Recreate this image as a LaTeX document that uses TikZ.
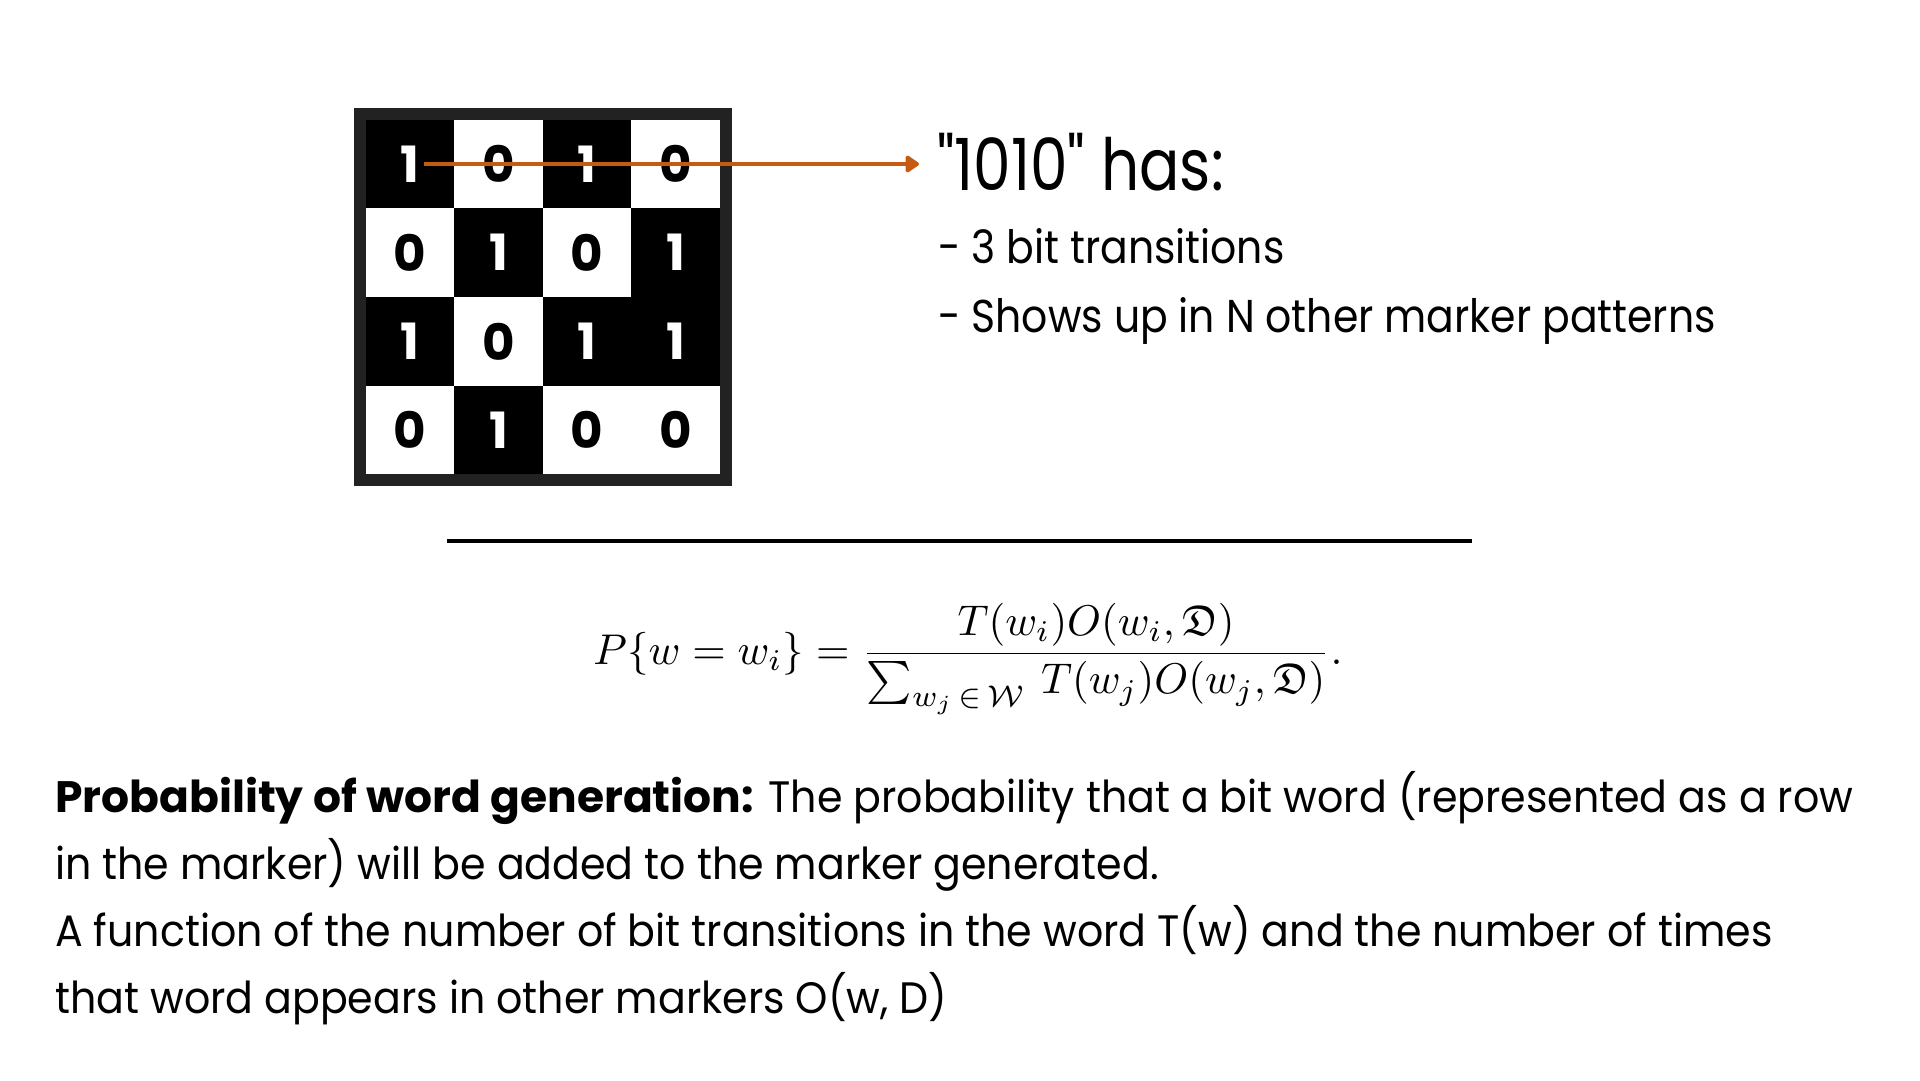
\documentclass[tikz,border=0pt]{standalone}
\usepackage[no-math]{fontspec}
\setmainfont{Poppins}
\newfontfamily\headfont{Poppins}[FakeStretch=0.83]
\newfontfamily\bulletfont{Poppins}[FakeStretch=0.89]
\newfontfamily\bodyfont{Poppins}[FakeStretch=0.935]
\usepackage{amsmath,amssymb,graphicx}
\usetikzlibrary{arrows.meta}
\definecolor{arrowc}{RGB}{197,90,17}
\definecolor{framec}{RGB}{34,34,34}
\tikzset{
  cell0/.style={fill=white,text=black},
  cell1/.style={fill=black,text=white},
  cellbase/.style={minimum width=88.8pt,minimum height=88.9pt,inner sep=0pt,
    font=\fontsize{50}{50}\selectfont\bfseries},
  txt/.style={anchor=base west,inner sep=0pt},
  big/.style={font=\fontsize{72}{80}\selectfont\headfont},
  mid/.style={font=\fontsize{46}{54}\selectfont\bulletfont},
  body/.style={font=\fontsize{44}{52}\selectfont\bodyfont},
  pointer/.style={draw=arrowc,line width=4pt,-{Triangle[length=15pt,width=19pt,round]}}
}
\begin{document}
\begin{tikzpicture}[x=1pt,y=-1pt]
\fill[white] (0,0) rectangle (1920,1080);
\useasboundingbox (0,0) rectangle (1920,1080);
% marker grid
\foreach \r/\row in {0/{1,0,1,0},1/{0,1,0,1},2/{1,0,1,1},3/{0,1,0,0}}{
  \foreach \v [count=\c from 0] in \row {
    \node[cellbase,cell\v] (c\r\c) at ({366+88.5*(\c+0.5)},{119.5+88.75*(\r+0.5)}) {\v};
  }
}
\node[draw=framec,line width=12pt,minimum size=366pt,inner sep=0pt] (marker) at (543,297) {};
% arrow and description
\coordinate (wordstart) at (424,164);
\node[txt,big] (has) at (937,190) {"1010" has:};
\node[txt,mid] (b1) at (938,263) {- 3 bit transitions};
\node[txt,mid] (b2) at (938,332) {- Shows up in N other marker patterns};
\draw[pointer,shorten >=18pt] (wordstart) -- (wordstart -| has.west);
% rule
\coordinate (ruleL) at (447,541);
\coordinate (ruleR) at (1472,541);
\draw[line width=4pt,black] (ruleL) -- (ruleR);
% formula
\node[inner sep=0pt] (formula) at (968,659)
  {\resizebox{749pt}{!}{$P\{w=w_i\}=\dfrac{T(w_i)O(w_i,\mathfrak{D})}{\textstyle\sum_{w_j\,{\in}\,\mathcal{W}}\,T(w_j)O(w_j,\mathfrak{D})}.$}};
% body text
\node[txt,body] (l1) at (55,812) {{\rmfamily\bfseries Probability of word generation:} The probability that a bit word (represented as a row};
\node[txt,body] (l2) at (55,879) {in the marker) will be added to the marker generated.};
\node[txt,body] (l3) at (55,946) {A function of the number of bit transitions in the word T(w) and the number of times};
\node[txt,body] (l4) at (55,1013) {that word appears in other markers O(w, D)};
\end{tikzpicture}
\end{document}
